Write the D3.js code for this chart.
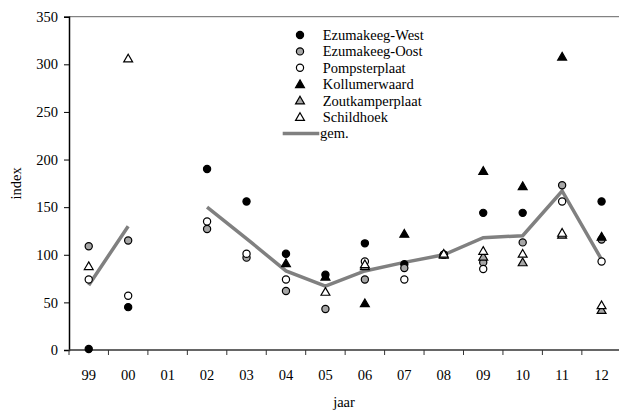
<!DOCTYPE html>
<html>
<head>
<meta charset="utf-8">
<script src="https://cdn.jsdelivr.net/npm/d3@7"></script>
<style>
  body { margin: 0; background: #fff; }
  text { font-family: "Liberation Serif", "Times New Roman", serif; fill: #000; }
</style>
</head>
<body>
<div class="chart"></div>
<script>
// years on the x axis
const years = ["99", "00", "01", "02", "03", "04", "05", "06", "07", "08", "09", "10", "11", "12"];
const yTicks = [0, 50, 100, 150, 200, 250, 300, 350];

// one array per site, null = no data
const ezumakeegWest   = [1, 45, null, 190, 156, 101, 79, 112, 90, 100, 144, 144, null, 156];
const ezumakeegOost   = [109, 115, null, 127, 97, 62, 43, 74, 86, 100, 92, 113, 173, 116];
const pompsterplaat   = [74, 57, null, 135, 101, 74, null, 93, 74, 100, 85, null, 156, 93];
const kollumerwaard   = [null, null, null, null, null, 91, 77, 49, 122, null, 188, 172, 308, 119];
const zoutkamperplaat = [null, null, null, null, null, null, null, 88, null, 100, 98, 92, 121, 42];
const schildhoek      = [88, 306, null, null, null, null, 61, 90, null, 101, 104, 101, 123, 47];
const gem             = [68, 130, null, 150, 117, 83, 67, 83, 92, 100, 118, 120, 167, 95];

const series = [
  { name: "Ezumakeeg-West", values: ezumakeegWest, shape: "circle", fill: "#000" },
  { name: "Ezumakeeg-Oost", values: ezumakeegOost, shape: "circle", fill: "#a6a6a6" },
  { name: "Pompsterplaat", values: pompsterplaat, shape: "circle", fill: "#fff" },
  { name: "Kollumerwaard", values: kollumerwaard, shape: "triangle", fill: "#000" },
  { name: "Zoutkamperplaat", values: zoutkamperplaat, shape: "triangle", fill: "#a6a6a6" },
  { name: "Schildhoek", values: schildhoek, shape: "triangle", fill: "#fff" }
];

const width = 619, height = 412;
const mLeft = 69, mTop = 16.7, mBottom = 350;

const svg = d3.select(".chart").append("svg")
  .attr("width", width)
  .attr("height", height);

const x = d3.scaleBand().domain(years).range([mLeft, mLeft + 14 * 39.45]).padding(0);
const y = d3.scaleLinear().domain([0, 350]).range([mBottom, mTop]);
const cx = d => x(d) + x.bandwidth() / 2;

// top frame line
svg.append("line")
  .attr("x1", mLeft).attr("x2", width)
  .attr("y1", y(350)).attr("y2", y(350))
  .attr("stroke", "#666").attr("stroke-width", 1);

// y axis
const yAxis = svg.append("g")
  .attr("transform", `translate(${mLeft},0)`)
  .call(d3.axisLeft(y).tickValues(yTicks).tickSize(5).tickPadding(6));
yAxis.select(".domain").attr("stroke", "#000").attr("stroke-width", 1.5);
yAxis.selectAll(".tick line").attr("stroke", "#000");
yAxis.selectAll(".tick text")
  .style("font-family", "'Liberation Serif', serif")
  .style("font-size", "14.5px")
  .attr("fill", "#000");

// x axis: labels centred in bands, ticks on band edges
const xAxis = svg.append("g")
  .attr("transform", `translate(0,${mBottom})`)
  .call(d3.axisBottom(x).tickSize(0).tickPadding(20));
xAxis.select(".domain").remove();
xAxis.selectAll(".tick text")
  .style("font-family", "'Liberation Serif', serif")
  .style("font-size", "14.5px")
  .attr("fill", "#000");
xAxis.selectAll(".edge")
  .data(years)
  .join("line")
  .attr("class", "edge")
  .attr("x1", d => x(d)).attr("x2", d => x(d))
  .attr("y1", 0).attr("y2", 5)
  .attr("stroke", "#333");
xAxis.append("line")
  .attr("x1", mLeft).attr("x2", width)
  .attr("y1", 0).attr("y2", 0)
  .attr("stroke", "#333").attr("stroke-width", 1.5);

// axis titles
svg.append("text")
  .attr("x", (mLeft + width) / 2).attr("y", 407)
  .attr("text-anchor", "middle")
  .style("font-size", "14.5px")
  .text("jaar");
svg.append("text")
  .attr("transform", `translate(21,${(mTop + mBottom) / 2}) rotate(-90)`)
  .attr("text-anchor", "middle")
  .style("font-size", "14.5px")
  .text("index");

// gem. line (gaps where no data)
const line = d3.line()
  .defined(d => d[1] !== null)
  .x(d => cx(d[0]))
  .y(d => y(d[1]));
svg.append("path")
  .datum(years.map((yr, i) => [yr, gem[i]]))
  .attr("d", line)
  .attr("fill", "none")
  .attr("stroke", "#808080")
  .attr("stroke-width", 3.5);

const tri = d3.symbol().type(d3.symbolTriangle).size(34);
function drawMarker(g, s, px, py) {
  if (s.shape === "circle") {
    g.append("circle")
      .attr("cx", px).attr("cy", py).attr("r", 3.6)
      .attr("fill", s.fill).attr("stroke", "#000").attr("stroke-width", 1.2);
  } else {
    g.append("path")
      .attr("d", tri())
      .attr("transform", `translate(${px},${py + 0.8})`)
      .attr("fill", s.fill).attr("stroke", "#000").attr("stroke-width", 1.2);
  }
}

// markers
const marks = svg.append("g");
series.forEach(s => {
  s.values.forEach((v, i) => {
    if (v === null) return;
    drawMarker(marks, s, cx(years[i]), y(v));
  });
});

// legend
const legend = svg.append("g");
const rowY = i => 35 + i * 16.4;
series.forEach((s, i) => {
  drawMarker(legend, s, 300, rowY(i));
  legend.append("text")
    .attr("x", 322.7).attr("y", rowY(i) + 5)
    .style("font-size", "14.5px")
    .text(s.name);
});
legend.append("line")
  .attr("x1", 282.7).attr("x2", 319.3)
  .attr("y1", rowY(6)).attr("y2", rowY(6))
  .attr("stroke", "#808080").attr("stroke-width", 3.5);
legend.append("text")
  .attr("x", 320).attr("y", rowY(6) + 5)
  .style("font-size", "14.5px")
  .text("gem.");
</script>
</body>
</html>
